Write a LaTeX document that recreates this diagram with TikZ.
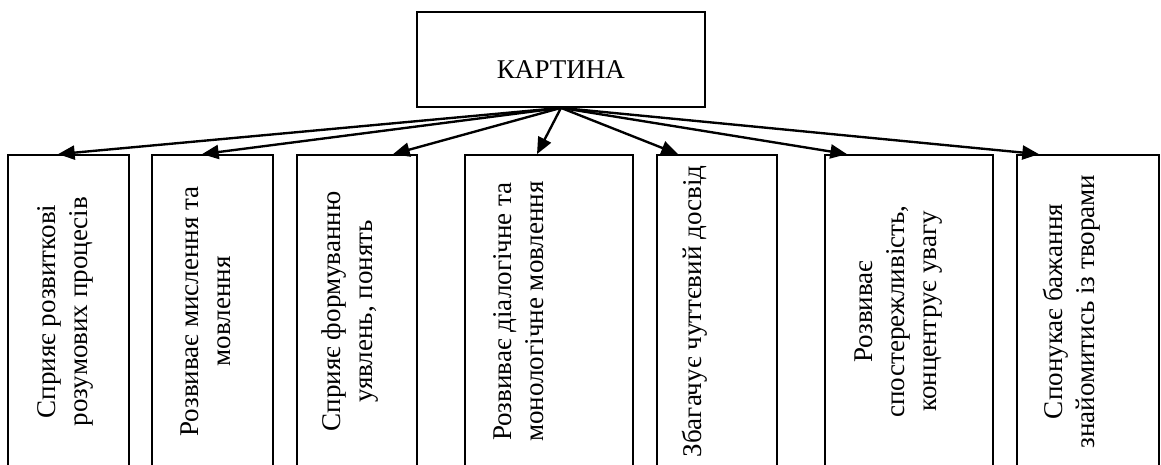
\documentclass[tikz,border=0pt]{standalone}
\usepackage{fontspec}
\setmainfont{Liberation Serif}
\usetikzlibrary{arrows.meta}
\tikzset{
  kbox/.style={draw,line width=1pt,inner sep=0pt,minimum height=6.24cm},
  ktext/.style={rotate=90,align=center,inner sep=0pt},
  karrow/.style={line width=1.35pt,-{Triangle[length=9.5pt,width=8pt]}}
}
\begin{document}
\begin{tikzpicture}[x=0.02cm,y=-0.02cm,font=\fontsize{15.4}{18.2}\selectfont]
  \useasboundingbox (0,0) rectangle (1161,464);
  % top box
  \node[kbox,minimum width=5.76cm,minimum height=1.9cm] (kartyna) at (561,59.5) {};
  \node[inner sep=0pt] (kartynatext) at (561,70) {КАРТИНА};
  % lower boxes
  \foreach \name/\x/\w in {b1/68.5/2.42,b2/212.5/2.42,b3/357/2.40,b4/549/3.36,b5/717/2.40,b6/909/3.36,b7/1088/2.84}{
    \node[kbox,minimum width=\w cm] (\name) at (\x,311) {};
  }
  \node[ktext] (t1) at (65,311.5) {Сприяє розвиткові\\розумових процесів};
  \node[ktext] (t2) at (206,311.5) {Розвиває мислення та\\мовлення};
  \node[ktext] (t3) at (350.5,311.5) {Сприяє формуванню\\уявлень, понять};
  \node[ktext] (t4) at (518.5,311.5) {Розвиває діалогічне та\\монологічне мовлення};
  \node[ktext] (t5) at (695,311.5) {Збагачує чуттєвий досвід};
  \node[ktext] (t6) at (899,311.5) {Розвиває\\спостережливість,\\концентрує увагу};
  \node[ktext] (t7) at (1071.5,311.5) {Спонукає бажання\\знайомитись із творами};
  % arrows
  \foreach \name/\dx in {b1/-0.21,b2/-0.21,b3/0.72,b4/-0.24,b5/-0.78,b6/-1.24,b7/-0.98}{
    \draw[karrow] (kartyna.south) -- ([xshift=\dx cm]\name.north);
  }
\end{tikzpicture}
\end{document}
